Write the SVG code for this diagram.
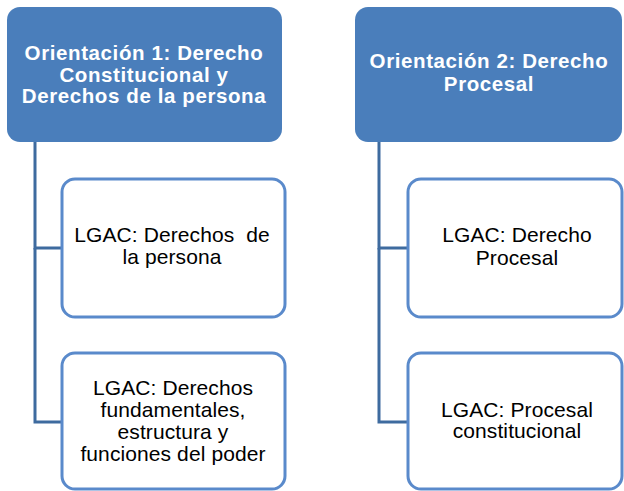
<svg xmlns="http://www.w3.org/2000/svg" width="624" height="491" viewBox="0 0 624 491">
<style>
.head{fill:#4a7ebb;}
.headtxt{font-family:"Liberation Sans",Arial,sans-serif;font-weight:bold;font-size:20.5px;fill:#ffffff;text-anchor:middle;letter-spacing:0.6px;}
.child{fill:#ffffff;stroke:#5a8acb;stroke-width:3;}
.childtxt{font-family:"Liberation Sans",Arial,sans-serif;font-size:21px;fill:#000000;text-anchor:middle;letter-spacing:0.1px;}
.conn{fill:none;stroke:#3e6b9f;stroke-width:3;}
</style>
<rect width="624" height="491" fill="#ffffff"/>
<g id="connectors">
<path class="conn" d="M35 142 V248 H62"/>
<path class="conn" d="M35 248 V422 H62"/>
<path class="conn" d="M379 142 V248 H408"/>
<path class="conn" d="M379 248 V422 H408"/>
</g>
<g id="orientacion1">
<rect class="head" x="7" y="7" width="275" height="135" rx="13"/>
<text class="headtxt"><tspan x="144" y="60">Orientación 1: Derecho</tspan><tspan x="144" y="82">Constitucional y</tspan><tspan x="144" y="103">Derechos de la persona</tspan></text>
</g>
<g id="orientacion2">
<rect class="head" x="355" y="7" width="267" height="135" rx="13"/>
<text class="headtxt"><tspan x="489" y="68">Orientación 2: Derecho</tspan><tspan x="489" y="91">Procesal</tspan></text>
</g>
<g id="lgac1">
<rect class="child" x="62" y="179" width="223" height="138" rx="13"/>
<text class="childtxt"><tspan x="172" y="242">LGAC: Derechos&#160; de</tspan><tspan x="172" y="264">la persona</tspan></text>
</g>
<g id="lgac2">
<rect class="child" x="62" y="353" width="223" height="136" rx="13"/>
<text class="childtxt"><tspan x="173" y="395">LGAC: Derechos</tspan><tspan x="173" y="417">fundamentales,</tspan><tspan x="173" y="439">estructura y</tspan><tspan x="173" y="461">funciones del poder</tspan></text>
</g>
<g id="lgac3">
<rect class="child" x="408" y="179" width="214" height="138" rx="13"/>
<text class="childtxt"><tspan x="517" y="242">LGAC: Derecho</tspan><tspan x="517" y="265">Procesal</tspan></text>
</g>
<g id="lgac4">
<rect class="child" x="408" y="353" width="214" height="136" rx="13"/>
<text class="childtxt"><tspan x="517" y="417">LGAC: Procesal</tspan><tspan x="517" y="438">constitucional</tspan></text>
</g>
</svg>
